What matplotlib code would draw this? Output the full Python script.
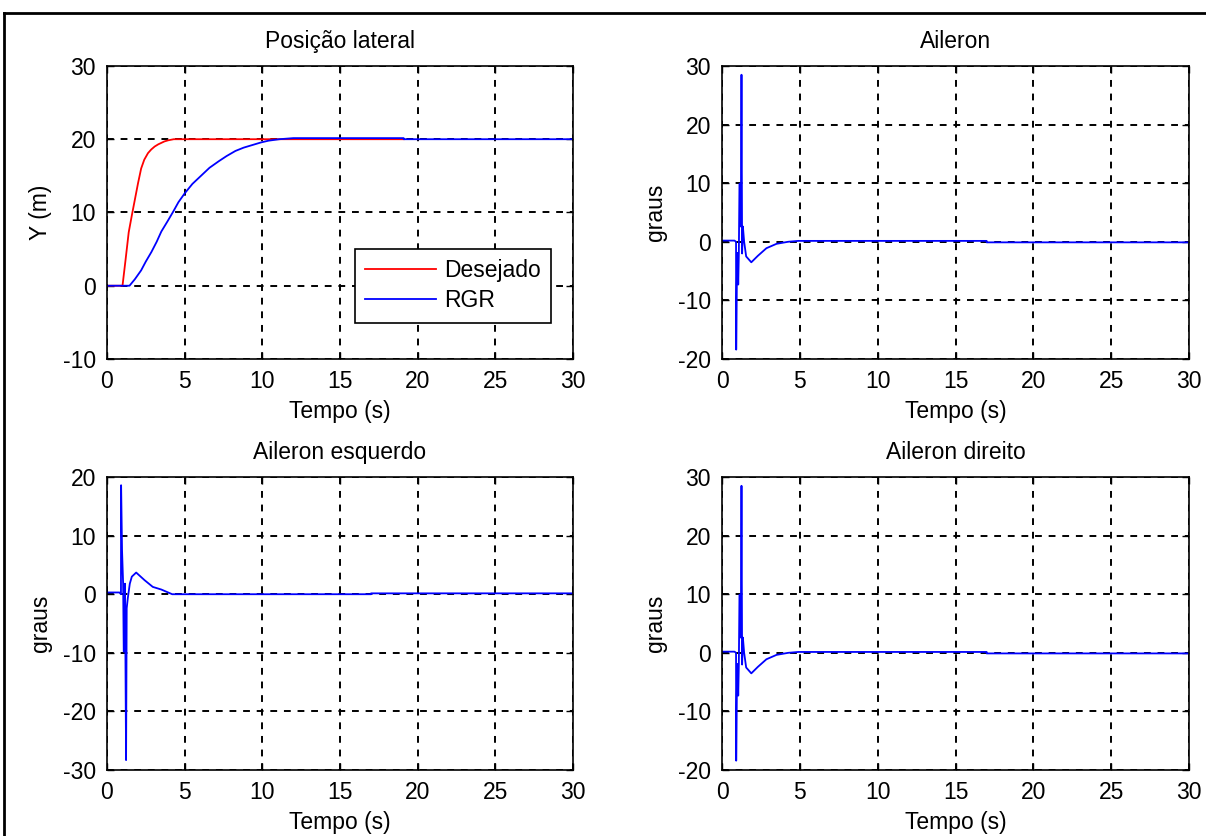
import matplotlib.pyplot as plt
from matplotlib.lines import Line2D

plt.rcParams['font.family'] = ['Liberation Sans', 'DejaVu Sans']
plt.rcParams['font.size'] = 16.5
plt.rcParams['axes.unicode_minus'] = False

# Posição lateral
t_des = [0, 1.0, 1.2, 1.4, 1.6, 1.8, 2.0, 2.2, 2.4, 2.64, 2.85, 3.07, 3.3, 3.5, 3.7, 3.94, 4.3, 19.1]
y_des = [0, 0, 3.6, 7.3, 9.6, 11.8, 14.0, 16.0, 17.2, 18.1, 18.6, 19.0, 19.3, 19.5, 19.7, 19.85, 20.0, 20.0]
t_rgr = [0, 1.45, 1.8, 2.2, 2.5, 2.86, 3.2, 3.5, 3.9, 4.26, 4.6, 5.0, 5.5, 6.1, 6.6, 7.2, 7.7,
         8.27, 8.8, 9.35, 9.9, 10.4, 11.1, 12.0, 19.1, 19.1, 30]
y_rgr = [0, 0, 0.9, 2.1, 3.3, 4.6, 6.0, 7.4, 8.8, 10.1, 11.4, 12.6, 13.9, 15.1, 16.1, 17.0, 17.7,
         18.4, 18.85, 19.2, 19.55, 19.8, 20.0, 20.15, 20.15, 20.0, 20.0]

# Aileron (e Aileron direito)
t_ail = [0, 0.8, 0.9, 0.91, 0.97, 1.0, 1.04, 1.08, 1.12, 1.16, 1.21, 1.25, 1.29, 1.34, 1.42,
         1.55, 1.88, 2.3, 2.85, 3.5, 4.25, 4.9, 17.0, 17.0, 30]
ail = [0.2, 0.2, 0, -18.4, -1.9, -1.9, -7.3, -1.9, 9.9, 9.9, 2.6, 28.5, -2.0, 2.6, 0,
       -2.5, -3.5, -2.4, -1.1, -0.35, 0, 0.15, 0.15, -0.1, -0.1]

# Aileron esquerdo
t_esq = [0, 0.8, 0.9, 0.91, 0.97, 1.04, 1.08, 1.16, 1.23, 1.27, 1.34, 1.47, 1.6, 1.88,
         2.42, 2.95, 3.5, 4.2, 17.0, 17.0, 30]
esq = [0.3, 0.3, 0, 18.6, 7.5, 1.8, -9.8, 1.8, -28.3, -2.4, -0.7, 1.8, 3.0, 3.7,
       2.4, 1.25, 0.8, 0, 0, 0.15, 0.15]


def style(ax, ylim, yticks):
    ax.set_xlim(0, 30)
    ax.set_ylim(*ylim)
    ax.set_xticks(range(0, 31, 5))
    ax.set_yticks(yticks)
    ax.grid(True, color='black', linestyle=(0, (3.5, 3.5)), linewidth=1.4)
    ax.tick_params(direction='in', length=5, width=1, top=True, right=True, pad=8)
    for s in ax.spines.values():
        s.set_linewidth(1.2)
    ax.set_xlabel('Tempo (s)', labelpad=5)


fig = plt.figure(figsize=(12.06, 8.36), dpi=100)

ax1 = fig.add_axes([0.0887, 0.5706, 0.3864, 0.3505])
ax2 = fig.add_axes([0.5987, 0.5706, 0.3872, 0.3505])
ax3 = fig.add_axes([0.0887, 0.0789, 0.3864, 0.3505])
ax4 = fig.add_axes([0.5987, 0.0789, 0.3872, 0.3505])

ax1.plot(t_des, y_des, color='red', linewidth=1.3, label='Desejado')
ax1.plot(t_rgr, y_rgr, color='blue', linewidth=1.3, label='RGR')
style(ax1, (-10, 30), [-10, 0, 10, 20, 30])
ax1.set_title('Posição lateral', fontsize=16.5, pad=13)
ax1.set_ylabel('Y (m)', labelpad=8)
leg = ax1.legend(loc='upper left', bbox_to_anchor=(0.532, 0.375), fancybox=False,
                 edgecolor='black', framealpha=1, handlelength=3.1, borderpad=0.45,
                 labelspacing=0.3, handletextpad=0.35, borderaxespad=0)
leg.get_frame().set_linewidth(1.2)

ax2.plot(t_ail, ail, color='blue', linewidth=1.3)
style(ax2, (-20, 30), [-20, -10, 0, 10, 20, 30])
ax2.set_title('Aileron', fontsize=16.5, pad=13)
ax2.set_ylabel('graus', labelpad=8)

ax3.plot(t_esq, esq, color='blue', linewidth=1.3)
style(ax3, (-30, 20), [-30, -20, -10, 0, 10, 20])
ax3.set_title('Aileron esquerdo', fontsize=16.5, pad=13)
ax3.set_ylabel('graus', labelpad=8)

ax4.plot(t_ail, ail, color='blue', linewidth=1.3)
style(ax4, (-20, 30), [-20, -10, 0, 10, 20, 30])
ax4.set_title('Aileron direito', fontsize=16.5, pad=13)
ax4.set_ylabel('graus', labelpad=8)

# moldura da figura
fig.add_artist(Line2D([0.003, 1.0], [0.985, 0.985], color='black', linewidth=2))
fig.add_artist(Line2D([0.003, 0.003], [0.0, 0.985], color='black', linewidth=2))

fig.savefig('out.png', dpi=100)
